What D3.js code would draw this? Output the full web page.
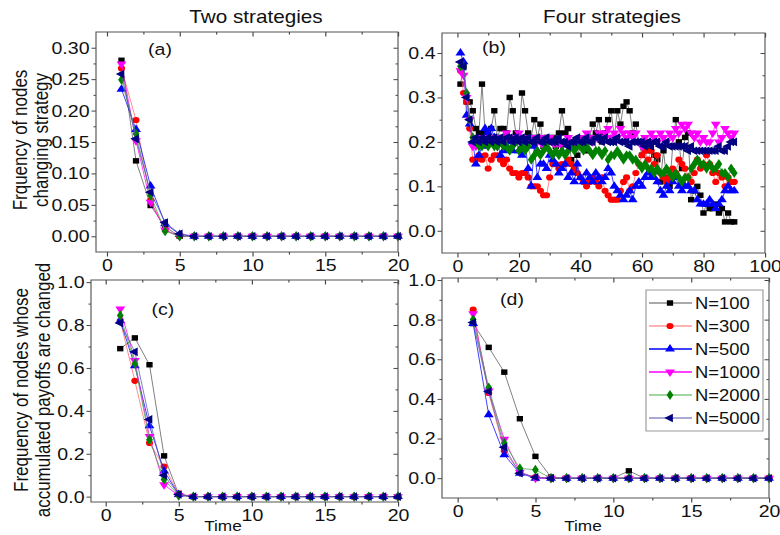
<!DOCTYPE html>
<html>
<head>
<meta charset="utf-8">
<script src="https://cdn.jsdelivr.net/npm/d3@7"></script>
<style>
body { margin: 0; background: #fff; }
text { font-family: "Liberation Sans", Arial, sans-serif; font-size: 17px; fill: #111; }
</style>
</head>
<body>
<script>
// series names and colours
var names = ["N=100", "N=300", "N=500", "N=1000", "N=2000", "N=5000"];
var colors = ["#000000", "#ff0000", "#0000ff", "#ff00ff", "#008000", "#000080"];
var lineColors = ["#555555", "#ff6666", "#0000ff", "#ff00ff", "#44aa44", "#5555aa"];

var stepsShort = [1,2,3,4,5,6,7,8,9,10,11,12,13,14,15,16,17,18,19,20];
var stepsLong = d3.range(1, 91);

// (a) two strategies, frequency of nodes changing strategy
var a100  = [0.280,0.120,0.049,0.015,0,0,0,0,0,0,0,0,0,0,0,0,0,0,0,0];
var a300  = [0.267,0.185,0.057,0.010,0,0,0,0,0,0,0,0,0,0,0,0,0,0,0,0];
var a500  = [0.234,0.170,0.080,0.020,0.003,0,0,0,0,0,0,0,0,0,0,0,0,0,0,0];
var a1000 = [0.274,0.152,0.054,0.010,0,0,0,0,0,0,0,0,0,0,0,0,0,0,0,0];
var a2000 = [0.249,0.163,0.065,0.008,0,0,0,0,0,0,0,0,0,0,0,0,0,0,0,0];
var a5000 = [0.258,0.155,0.070,0.022,0.004,0,0,0,0,0,0,0,0,0,0,0,0,0,0,0];

// (b) four strategies
var b100 = [0.33,0.37,0.29,0.29,0.27,0.23,0.22,0.33,0.22,0.22,
            0.23,0.27,0.21,0.23,0.23,0.22,0.30,0.27,0.22,0.21,
            0.31,0.27,0.22,0.21,0.25,0.21,0.24,0.19,0.21,0.20,
            0.21,0.19,0.22,0.27,0.22,0.23,0.16,0.14,0.17,0.19,
            0.20,0.18,0.21,0.24,0.22,0.25,0.20,0.22,0.25,0.27,
            0.21,0.27,0.24,0.28,0.29,0.27,0.22,0.24,0.20,0.17,
            0.20,0.18,0.20,0.17,0.16,0.11,0.18,0.12,0.10,0.19,
            0.25,0.20,0.14,0.21,0.22,0.07,0.09,0.10,0.08,0.04,
            0.06,0.05,0.05,0.06,0.04,0.05,0.02,0.04,0.02,0.02];
var b300 = [0.36,0.31,0.29,0.23,0.16,0.16,0.17,0.16,0.17,0.14,
            0.16,0.17,0.17,0.16,0.15,0.16,0.14,0.13,0.13,0.12,
            0.13,0.13,0.12,0.10,0.10,0.10,0.09,0.08,0.08,0.12,
            0.15,0.15,0.14,0.15,0.15,0.16,0.15,0.14,0.13,0.12,
            0.11,0.10,0.11,0.12,0.11,0.10,0.12,0.09,0.08,0.07,
            0.07,0.07,0.09,0.11,0.12,0.09,0.10,0.13,0.15,0.17,
            0.18,0.16,0.18,0.15,0.17,0.13,0.12,0.11,0.12,0.14,
            0.13,0.16,0.15,0.14,0.12,0.11,0.13,0.16,0.14,0.15,
            0.17,0.15,0.13,0.11,0.13,0.12,0.10,0.12,0.11,0.11];
var b500 = [0.40,0.38,0.26,0.24,0.20,0.15,0.17,0.19,0.23,0.22,
            0.23,0.21,0.20,0.17,0.18,0.19,0.20,0.18,0.21,0.18,
            0.17,0.20,0.14,0.10,0.19,0.12,0.15,0.15,0.14,0.17,
            0.16,0.15,0.13,0.14,0.15,0.12,0.13,0.11,0.15,0.12,
            0.11,0.13,0.12,0.11,0.13,0.12,0.11,0.12,0.14,0.13,
            0.10,0.09,0.08,0.07,0.08,0.09,0.07,0.10,0.11,0.10,
            0.12,0.13,0.12,0.12,0.11,0.09,0.08,0.10,0.09,0.11,
            0.12,0.10,0.09,0.10,0.10,0.09,0.09,0.07,0.06,0.06,
            0.06,0.07,0.06,0.05,0.06,0.07,0.09,0.10,0.09,0.09];
var b1000 = [0.36,0.35,0.30,0.25,0.19,0.19,0.20,0.21,0.20,0.21,
             0.20,0.21,0.19,0.21,0.20,0.22,0.21,0.20,0.21,0.22,
             0.20,0.21,0.20,0.21,0.21,0.20,0.21,0.19,0.20,0.21,
             0.20,0.19,0.20,0.19,0.20,0.21,0.20,0.19,0.20,0.21,
             0.21,0.22,0.21,0.20,0.21,0.22,0.21,0.22,0.23,0.21,
             0.22,0.21,0.23,0.22,0.21,0.22,0.21,0.22,0.20,0.19,
             0.21,0.20,0.22,0.21,0.20,0.22,0.21,0.20,0.22,0.21,
             0.23,0.22,0.24,0.23,0.24,0.22,0.21,0.22,0.20,0.21,
             0.20,0.20,0.22,0.24,0.20,0.21,0.23,0.22,0.21,0.22];
var b2000 = [0.37,0.37,0.31,0.25,0.21,0.20,0.19,0.19,0.20,0.19,
             0.20,0.19,0.19,0.20,0.19,0.19,0.18,0.19,0.20,0.18,
             0.19,0.18,0.19,0.16,0.17,0.18,0.17,0.18,0.19,0.18,
             0.17,0.18,0.17,0.18,0.17,0.18,0.19,0.18,0.19,0.19,
             0.18,0.19,0.18,0.17,0.18,0.18,0.17,0.18,0.16,0.17,
             0.17,0.18,0.17,0.16,0.17,0.17,0.16,0.16,0.15,0.14,
             0.15,0.14,0.14,0.13,0.14,0.13,0.13,0.14,0.13,0.12,
             0.13,0.12,0.11,0.12,0.12,0.14,0.15,0.16,0.15,0.15,
             0.14,0.15,0.14,0.14,0.15,0.13,0.13,0.12,0.14,0.13];
var b5000 = [0.38,0.37,0.30,0.25,0.20,0.21,0.20,0.21,0.20,0.21,
             0.20,0.21,0.20,0.21,0.20,0.21,0.21,0.20,0.21,0.20,
             0.21,0.20,0.21,0.20,0.20,0.21,0.20,0.20,0.21,0.20,
             0.20,0.20,0.21,0.20,0.20,0.19,0.20,0.20,0.21,0.20,
             0.20,0.21,0.20,0.20,0.21,0.21,0.20,0.21,0.20,0.20,
             0.20,0.21,0.20,0.20,0.20,0.19,0.20,0.20,0.20,0.20,
             0.19,0.20,0.19,0.20,0.20,0.19,0.19,0.20,0.19,0.19,
             0.19,0.19,0.19,0.19,0.18,0.19,0.18,0.18,0.18,0.18,
             0.18,0.18,0.18,0.18,0.19,0.18,0.18,0.19,0.20,0.20];

// (c) two strategies, accumulated payoffs changed
var c100  = [0.69,0.74,0.615,0.19,0.01,0,0,0,0,0,0,0,0,0,0,0,0,0,0,0];
var c300  = [0.82,0.54,0.25,0.14,0.015,0,0,0,0,0,0,0,0,0,0,0,0,0,0,0];
var c500  = [0.82,0.61,0.33,0.12,0.01,0,0,0,0,0,0,0,0,0,0,0,0,0,0,0];
var c1000 = [0.875,0.635,0.28,0.055,0.005,0,0,0,0,0,0,0,0,0,0,0,0,0,0,0];
var c2000 = [0.845,0.62,0.265,0.08,0.005,0,0,0,0,0,0,0,0,0,0,0,0,0,0,0];
var c5000 = [0.81,0.675,0.36,0.10,0.01,0,0,0,0,0,0,0,0,0,0,0,0,0,0,0];

// (d) four strategies, accumulated payoffs changed
var d100  = [0.78,0.66,0.535,0.30,0.11,0.005,0,0,0,0,0.037,0,0,0,0,0,0,0,0,0];
var d300  = [0.85,0.43,0.138,0.03,0.005,0,0,0,0,0,0,0,0,0,0,0,0,0,0,0];
var d500  = [0.78,0.32,0.118,0.025,0,0,0,0,0,0,0,0,0,0,0,0,0,0,0,0];
var d1000 = [0.83,0.44,0.197,0.03,0,0,0,0,0,0,0,0,0,0,0,0,0,0,0,0];
var d2000 = [0.80,0.457,0.177,0.05,0.042,0,0,0,0,0,0,0,0,0,0,0,0,0,0,0];
var d5000 = [0.785,0.437,0.156,0.025,0.005,0,0,0,0,0,0,0,0,0,0,0,0,0,0,0];

var xTicksShort = [0, 5, 10, 15, 20];
var xTicksLong = [0, 20, 40, 60, 80, 100];

// the original figure is stretched sideways, so the svg is too
var SX = 1.15;
var W = 780, H = 535;
function px(v) { return v / SX; }

var svg = d3.select("body").append("svg")
    .attr("width", W)
    .attr("height", H)
    .attr("viewBox", "0 0 " + (W / SX) + " " + H)
    .attr("preserveAspectRatio", "none");

var shapes = [
    {type: d3.symbolSquare, rot: 0, size: 30},
    {type: d3.symbolCircle, rot: 0, size: 30},
    {type: d3.symbolTriangle, rot: 0, size: 32},
    {type: d3.symbolTriangle, rot: 180, size: 32},
    {type: d3.symbolDiamond, rot: 0, size: 30},
    {type: d3.symbolTriangle, rot: -90, size: 32}
];

function axisStyle(g) {
    g.attr("color", "#444");
    g.select(".domain").remove();
}

function drawPanel(p) {
    var x = d3.scaleLinear().domain(p.xDomain).range([px(p.left), px(p.right)]);
    var y = d3.scaleLinear().domain(p.yDomain).range([p.bottom, p.top]);
    var g = svg.append("g");

    // left: outward, right: inward
    g.append("g").attr("transform", "translate(" + px(p.left) + ",0)")
        .call(d3.axisLeft(y).tickValues(p.yMinor).tickSize(px(2.5)).tickFormat(""))
        .call(axisStyle);
    g.append("g").attr("transform", "translate(" + px(p.left) + ",0)")
        .call(d3.axisLeft(y).tickValues(p.yTicks).tickSize(px(4.5)).tickPadding(px(2))
            .tickFormat(d3.format(p.yFmt)))
        .call(axisStyle);
    g.append("g").attr("transform", "translate(" + px(p.right) + ",0)")
        .call(d3.axisLeft(y).tickValues(p.yMinor).tickSize(px(2.5)).tickFormat(""))
        .call(axisStyle);
    g.append("g").attr("transform", "translate(" + px(p.right) + ",0)")
        .call(d3.axisLeft(y).tickValues(p.yTicks).tickSize(px(4.5)).tickFormat(""))
        .call(axisStyle);

    // bottom: outward, top: inward
    g.append("g").attr("transform", "translate(0," + p.bottom + ")")
        .call(d3.axisBottom(x).tickValues(p.xMinor).tickSize(2.5).tickFormat(""))
        .call(axisStyle);
    g.append("g").attr("transform", "translate(0," + p.bottom + ")")
        .call(d3.axisBottom(x).tickValues(p.xTicks).tickSize(4.5).tickPadding(2)
            .tickFormat(d3.format("d")))
        .call(axisStyle);
    g.append("g").attr("transform", "translate(0," + p.top + ")")
        .call(d3.axisBottom(x).tickValues(p.xMinor).tickSize(2.5).tickFormat(""))
        .call(axisStyle);
    g.append("g").attr("transform", "translate(0," + p.top + ")")
        .call(d3.axisBottom(x).tickValues(p.xTicks).tickSize(4.5).tickFormat(""))
        .call(axisStyle);

    g.selectAll(".tick text").style("font-size", "17px").attr("fill", "#111");

    g.append("rect")
        .attr("x", px(p.left)).attr("y", p.top)
        .attr("width", px(p.right - p.left)).attr("height", p.bottom - p.top)
        .attr("fill", "none").attr("stroke", "#555").attr("stroke-width", 1);

    var line = d3.line()
        .x(function(d) { return x(d[0]); })
        .y(function(d) { return y(d[1]); });

    p.series.forEach(function(vals, i) {
        var pts = vals.map(function(v, k) { return [p.steps[k], v]; });
        g.append("path")
            .datum(pts)
            .attr("d", line)
            .attr("fill", "none")
            .attr("stroke", lineColors[i])
            .attr("stroke-width", 0.7);
        g.selectAll(".m" + i)
            .data(pts)
            .enter()
            .append("path")
            .attr("class", "m" + i)
            .attr("d", d3.symbol().type(shapes[i].type).size(shapes[i].size))
            .attr("transform", function(d) {
                return "translate(" + x(d[0]) + "," + y(d[1]) + ") rotate(" + shapes[i].rot + ")";
            })
            .attr("fill", colors[i]);
    });

    g.append("text")
        .attr("x", px(p.tag[1])).attr("y", p.tag[2])
        .attr("text-anchor", "middle")
        .text(p.tag[0]);
}

drawPanel({
    left: 96, right: 398, top: 32, bottom: 252,
    xDomain: [-0.75, 20], yDomain: [-0.025, 0.325],
    xTicks: xTicksShort, xMinor: [2.5, 7.5, 12.5, 17.5],
    yTicks: [0, 0.05, 0.10, 0.15, 0.20, 0.25, 0.30], yMinor: [0.025, 0.075, 0.125, 0.175, 0.225, 0.275],
    yFmt: ".2f", steps: stepsShort,
    series: [a100, a300, a500, a1000, a2000, a5000],
    tag: ["(a)", 160, 55]
});
drawPanel({
    left: 442, right: 765, top: 33, bottom: 253,
    xDomain: [-5, 100], yDomain: [-0.05, 0.445],
    xTicks: xTicksLong, xMinor: [10, 30, 50, 70, 90],
    yTicks: [0, 0.1, 0.2, 0.3, 0.4], yMinor: [0.05, 0.15, 0.25, 0.35],
    yFmt: ".1f", steps: stepsLong,
    series: [b100, b300, b500, b1000, b2000, b5000],
    tag: ["(b)", 494, 53]
});
drawPanel({
    left: 91, right: 398, top: 280, bottom: 502,
    xDomain: [-1, 20], yDomain: [-0.025, 1.01],
    xTicks: xTicksShort, xMinor: [2.5, 7.5, 12.5, 17.5],
    yTicks: [0, 0.2, 0.4, 0.6, 0.8, 1.0], yMinor: [0.1, 0.3, 0.5, 0.7, 0.9],
    yFmt: ".1f", steps: stepsShort,
    series: [c100, c300, c500, c1000, c2000, c5000],
    tag: ["(c)", 163, 315]
});
drawPanel({
    left: 442, right: 769, top: 278, bottom: 498,
    xDomain: [-1, 20], yDomain: [-0.1, 1.01],
    xTicks: xTicksShort, xMinor: [2.5, 7.5, 12.5, 17.5],
    yTicks: [0, 0.2, 0.4, 0.6, 0.8, 1.0], yMinor: [0.1, 0.3, 0.5, 0.7, 0.9],
    yFmt: ".1f", steps: stepsShort,
    series: [d100, d300, d500, d1000, d2000, d5000],
    tag: ["(d)", 512, 305]
});

// titles
svg.append("text").attr("x", px(256)).attr("y", 23).attr("text-anchor", "middle")
    .style("font-size", "18px").text("Two strategies");
svg.append("text").attr("x", px(612)).attr("y", 23).attr("text-anchor", "middle")
    .style("font-size", "18px").text("Four strategies");

// axis titles
function yLabel(cx, cy, txt) {
    svg.append("text")
        .attr("transform", "translate(" + px(cx) + "," + cy + ") rotate(-90)")
        .attr("text-anchor", "middle")
        .attr("dy", "0.35em")
        .text(txt);
}
yLabel(20, 140, "Frquency of nodes");
yLabel(41, 140, "changing strategy");
yLabel(21, 390, "Frequency of nodes whose");
yLabel(43, 390, "accumulated payoffs are changed");

svg.append("text").attr("x", px(223)).attr("y", 531).attr("text-anchor", "middle")
    .style("font-size", "15px").text("Time");
svg.append("text").attr("x", px(583)).attr("y", 531).attr("text-anchor", "middle")
    .style("font-size", "15px").text("Time");

// legend
var legend = svg.append("g");
legend.append("rect")
    .attr("x", px(646)).attr("y", 290)
    .attr("width", px(117)).attr("height", 141)
    .attr("fill", "#fff").attr("stroke", "#999").attr("stroke-width", 1);
var legendWidths = [1, 1, 1.5, 1.5, 1, 1];
names.forEach(function(n, i) {
    var ly = 303 + i * 23;
    legend.append("line")
        .attr("x1", px(649)).attr("x2", px(692)).attr("y1", ly).attr("y2", ly)
        .attr("stroke", lineColors[i]).attr("stroke-width", legendWidths[i]);
    legend.append("path")
        .attr("d", d3.symbol().type(shapes[i].type).size(shapes[i].size))
        .attr("transform", "translate(" + px(670) + "," + ly + ") rotate(" + shapes[i].rot + ")")
        .attr("fill", colors[i]);
    legend.append("text")
        .attr("x", px(695)).attr("y", ly + 6)
        .style("font-size", "16px")
        .text(n);
});
</script>
</body>
</html>
